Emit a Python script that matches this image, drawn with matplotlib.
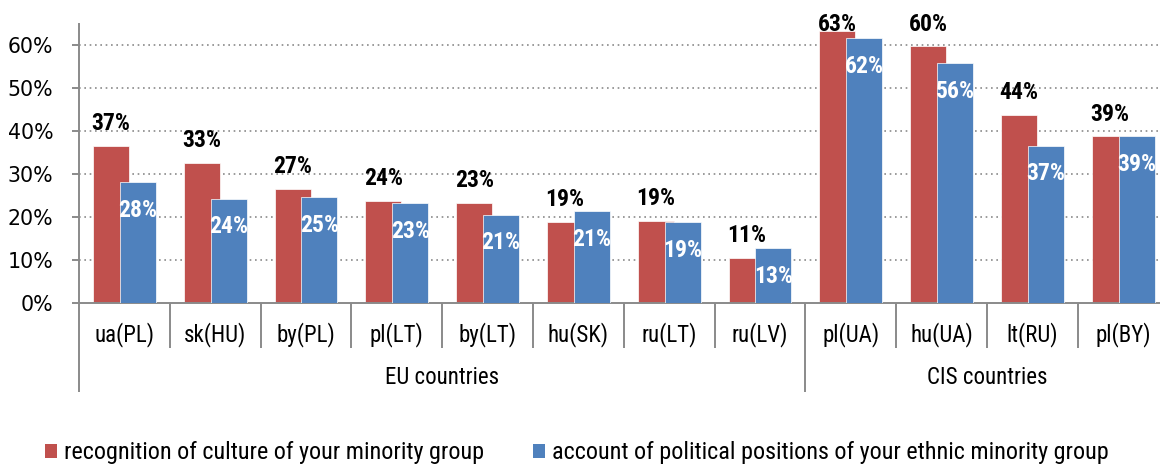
import matplotlib
matplotlib.use("Agg")
import matplotlib.pyplot as plt
from matplotlib.patches import Patch

categories = ['ua(PL)', 'sk(HU)', 'by(PL)', 'pl(LT)', 'by(LT)', 'hu(SK)',
              'ru(LT)', 'ru(LV)', 'pl(UA)', 'hu(UA)', 'lt(RU)', 'pl(BY)']
culture = [36.6, 32.6, 26.6, 23.8, 23.2, 18.8, 19.2, 10.6, 63.1, 59.8, 43.6, 38.7]
political = [28.1, 24.3, 24.6, 23.2, 20.6, 21.3, 18.9, 12.9, 61.6, 55.7, 36.6, 38.7]
groups = ['EU countries', 'CIS countries']
group_sizes = [8, 4]
series_names = ['recognition of culture of your minority group',
                'account of political positions of your ethnic minority group']

RED = '#C0504D'
BLUE = '#4F81BD'
GRAY = '#8a8a8a'
narrow = ['Roboto Condensed', 'DejaVu Sans']

W, H = 1160, 466
fig = plt.figure(figsize=(W / 100, H / 100), dpi=100)
y0, ytop = 303.3, 24.0
ax = fig.add_axes([79 / W, (H - y0) / H, 90.8 * len(categories) / W, (y0 - ytop) / H])

n = len(categories)
bw = 0.396
xs = list(range(n))
red_x = [i + 0.352 for i in xs]
blue_x = [i + 0.648 for i in xs]
ax.bar(red_x, culture, width=bw, color=RED, edgecolor='white', linewidth=0.5, zorder=2)
ax.bar(blue_x, political, width=bw, color=BLUE, edgecolor='white', linewidth=0.5, zorder=3)

ax.set_xlim(0, n)
ax.set_ylim(0, 64.8)

# data labels
for x, v in zip(red_x, culture):
    ax.text(x, min(v + 3.7, 63.2), f"{v:.0f}%", ha='center', va='baseline',
            fontsize=17, fontweight='bold', family=narrow, color='black',
            zorder=5, clip_on=False)
for x, v in zip(blue_x, political):
    ax.text(x, v - 8.1, f"{v:.0f}%", ha='center', va='baseline',
            fontsize=17, fontweight='bold', family=narrow, color='white', zorder=5)

# y axis
ax.set_yticks(range(0, 61, 10))
ax.set_yticklabels([f"{t}%" for t in range(0, 61, 10)], fontsize=14.8,
                   family='DejaVu Sans')
ax.tick_params(axis='y', direction='out', length=5, width=1.4, color=GRAY, pad=13.5)
ax.set_xticks([])
for s in ['top', 'right']:
    ax.spines[s].set_visible(False)
for s in ['left', 'bottom']:
    ax.spines[s].set_color(GRAY)
    ax.spines[s].set_linewidth(1.4)

for t in range(10, 61, 10):
    ax.axhline(t, color=GRAY, linestyle=(0, (1, 2.2)), linewidth=1.2, zorder=1)

# hierarchical category axis
axh = y0 - ytop
tr = ax.get_xaxis_transform()
short_end = -(348 - y0) / axh
long_end = -(392 - y0) / axh
bounds_long = [0]
acc = 0
for g in group_sizes:
    acc += g
    bounds_long.append(acc)
for b in range(n + 1):
    yend = long_end if b in bounds_long else short_end
    ax.plot([b, b], [0, yend], transform=tr, color=GRAY, linewidth=1.4,
            clip_on=False, solid_capstyle='butt')

for i, c in enumerate(categories):
    ax.text(i + 0.5, -(335 - y0) / axh, c, transform=tr, ha='center', va='center',
            fontsize=16.5, family=narrow)
start = 0
for g, size in zip(groups, group_sizes):
    ax.text(start + size / 2, -(378 - y0) / axh, g, transform=tr, ha='center',
            va='center', fontsize=16.5, family=narrow)
    start += size

handles = [Patch(facecolor=RED), Patch(facecolor=BLUE)]
fig.legend(handles, series_names, loc='center left', bbox_to_anchor=(45 / W, 1 - 453 / H),
           ncol=2, frameon=False, borderpad=0, borderaxespad=0,
           handlelength=0.5, handleheight=0.5, handletextpad=0.3, columnspacing=2.0,
           prop={'family': narrow, 'size': 17.4})

fig.savefig('out.png', dpi=100)
